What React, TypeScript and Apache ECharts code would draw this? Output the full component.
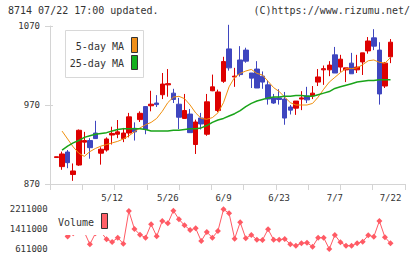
import React, { useEffect, useRef } from 'react';
import * as echarts from 'echarts';

const dates = ['4/23','4/24','4/25','4/28','4/30','5/1','5/2','5/7','5/8','5/9','5/12','5/13','5/14','5/15','5/16','5/19','5/20','5/21','5/22','5/23','5/26','5/27','5/28','5/29','5/30','6/2','6/3','6/4','6/5','6/6','6/9','6/10','6/11','6/12','6/13','6/16','6/17','6/18','6/19','6/20','6/23','6/24','6/25','6/26','6/27','6/30','7/1','7/2','7/3','7/4','7/7','7/8','7/9','7/10','7/11','7/14','7/15','7/16','7/17','7/18','7/22'];

// [open, close, low, high]
const ohlc = [
  [903.5, 904.5, 903.5, 904.5], [892, 908, 888, 911], [910.5, 897, 890, 913], [882, 886.5, 874, 896],
  [894, 938, 893, 939], [923, 925, 908, 936], [925, 916, 902, 928], [934.5, 927.5, 927, 950],
  [909, 914, 894.5, 916.5], [913, 927, 911, 929], [932, 934, 920, 942.5], [933, 936, 928, 951],
  [927.5, 934.5, 923, 941], [934.5, 955, 929, 960], [940.5, 936, 925, 948], [951.5, 959.5, 948.5, 962],
  [968, 939, 933, 968.5], [969, 971, 962, 988], [972.5, 970.5, 967.5, 982.5], [983, 996.5, 977.5, 1010.5],
  [995.5, 997, 980.5, 1015.5], [985, 977, 972.5, 990.5], [971, 954.5, 939.5, 979], [953, 963, 952.5, 984],
  [958.5, 935, 935, 965], [920, 948.5, 908, 951.5], [953.5, 946, 939, 960], [933, 974, 931, 984],
  [988, 993, 987.5, 1008.5], [963, 986.5, 961, 989.5], [1000, 1025, 998, 1031], [1041, 1017, 1013.5, 1071.5],
  [1005.5, 1006.5, 993, 1017], [1027, 1008.5, 1006, 1044.5], [1039.5, 1025.5, 1023.5, 1042.5], [1010.5, 1004, 991.5, 1010.5],
  [1015.5, 991.5, 991.5, 1025.5], [1006.5, 999, 990.5, 1012.5], [995.5, 977.5, 970.5, 1001], [979, 972.5, 971.5, 984],
  [979, 977, 970.5, 990], [977.5, 953.5, 945, 986.5], [967.5, 963.5, 958, 970], [966, 975, 957.5, 975],
  [977.5, 979, 963.5, 987.5], [981.5, 976.5, 972.5, 993], [981.5, 985, 977.5, 994], [999, 1005.5, 994, 1015.5],
  [1014.5, 1016, 995.5, 1020], [1014.5, 1020.5, 1006.5, 1025.5], [1033.5, 1010.5, 1010.5, 1043.5], [1018, 1028, 1012, 1033.5],
  [1014.5, 1017, 999, 1017], [1023, 1009.5, 1009.5, 1036], [1014.5, 1018, 1010.5, 1033.5], [1024.5, 1036, 1008, 1036],
  [1038.5, 1051, 1035, 1056], [1055, 1044.5, 1039.5, 1066], [1039.5, 984, 970.5, 1049.5], [994, 1023, 991.5, 1024.5],
  [1031, 1049.5, 1023, 1053.5]
];

const ma5 = [null, 937, 927, 917, 909, 905, 911, 915, 918, 920, 922, 924, 927, 931, 936, 941, 945, 948, 953, 962,
  973, 980, 981, 978, 970, 960, 953, 952, 954, 960, 973, 993, 1005, 1010, 1013, 1015, 1010, 1008, 1000, 992,
  987, 980, 973, 970, 970, 970, 972, 980, 990, 999, 1005, 1011, 1016, 1016, 1017, 1021, 1026, 1027, 1024, 1023, 1030];

const ma25 = [null, 913, 918, 922, 925, 929, 931, 933, 934, 935, 937, 939, 940, 940, 940, 940, 939, 937, 937, 937,
  937, 938, 938, 939, 940, 940, 941, 944, 948, 951, 953, 956, 959, 963, 968, 972, 975, 977, 979, 980,
  980, 981, 981, 982, 982, 981, 981, 983, 985, 987, 991, 993, 995, 997, 999, 1000, 1001, 1001, 1002, 1002, 1002];

const volume = [1500000, 1300000, 1120000, 1250000, 1400000, 1300000, 811000, 1250000, 1300000, 1011000,
  903000, 1075000, 835000, 2143000, 1423000, 1195000, 1075000, 1611000, 1131000, 1743000,
  1651000, 2155000, 1811000, 1571000, 1383000, 1451000, 943000, 1303000, 1075000, 1343000,
  2211000, 2051000, 1035000, 1691000, 1051000, 1183000, 995000, 983000, 1411000, 995000,
  995000, 1023000, 811000, 755000, 851000, 875000, 715000, 1075000, 1075000, 623000,
  1183000, 891000, 755000, 755000, 851000, 915000, 1171000, 1115000, 1743000, 1091000, 851000];

const labelDates = ['5/12', '5/26', '6/9', '6/23', '7/7', '7/22'];
const priceMin = 870, priceMax = 1070, priceStep = 100;
const volMin = 611000, volMax = 2211000, volStep = 800000;

const FONT = '"DejaVu Sans Mono", monospace';

export default function App() {
  const ref = useRef<HTMLDivElement>(null);
  useEffect(() => {
    const chart = echarts.init(ref.current as HTMLDivElement, null, { renderer: 'svg' });
    const axisGray = '#d4d4d4';
    const txt = '#333333';
    const plain = (v: number) => String(v);
    chart.setOption({
      animation: false,
      backgroundColor: '#ffffff',
      grid: [
        { left: 50, top: 26, width: 355, height: 158 },
        { left: 53.7, top: 26, width: 339.6, height: 158 },
        { left: 53.7, top: 209.3, width: 339.6, height: 40 },
      ],
      xAxis: [
        { type: 'value', gridIndex: 0, min: 0, max: 11, interval: 1,
          axisLine: { onZero: false, lineStyle: { color: axisGray } },
          axisTick: { show: true, length: 6, lineStyle: { color: axisGray } },
          axisLabel: { show: false }, splitLine: { show: false } },
        { type: 'category', gridIndex: 1, data: dates, boundaryGap: true,
          axisLine: { show: false }, axisTick: { show: false }, splitLine: { show: false },
          axisLabel: { interval: (_i: number, v: string) => labelDates.includes(v), margin: 9,
            fontFamily: FONT, fontSize: 9, color: txt } },
        { type: 'category', gridIndex: 2, data: dates, boundaryGap: true, show: false },
      ],
      yAxis: [
        { type: 'value', gridIndex: 0, min: priceMin, max: priceMax, interval: priceStep, position: 'left',
          axisLine: { show: true, onZero: false, lineStyle: { color: axisGray } },
          axisTick: { show: true, length: 5, lineStyle: { color: axisGray } },
          axisLabel: { margin: 10, fontFamily: FONT, fontSize: 9, color: txt, formatter: plain },
          splitLine: { show: false } },
        { type: 'value', gridIndex: 0, min: priceMin, max: priceMax, interval: priceStep, position: 'left',
          axisLine: { show: false }, axisTick: { show: true, inside: true, length: 3, lineStyle: { color: axisGray } },
          axisLabel: { show: false }, splitLine: { show: false } },
        { type: 'value', gridIndex: 1, min: priceMin, max: priceMax, show: false, splitLine: { show: false } },
        { type: 'value', gridIndex: 2, min: volMin, max: volMax, interval: volStep,
          axisLine: { show: false }, axisTick: { show: false }, splitLine: { show: false },
          axisLabel: { margin: 6, fontFamily: FONT, fontSize: 9, color: txt, formatter: plain } },
      ],
      series: [
        { type: 'candlestick', xAxisIndex: 1, yAxisIndex: 2, data: ohlc, barWidth: 5, clip: false,
          itemStyle: { color: '#dd0000', color0: '#3f46bf', borderColor: '#dd0000', borderColor0: '#3f46bf', borderWidth: 1 } },
        { type: 'line', xAxisIndex: 1, yAxisIndex: 2, data: ma5, symbol: 'none', clip: false,
          lineStyle: { color: '#f0900f', width: 1 } },
        { type: 'line', xAxisIndex: 1, yAxisIndex: 2, data: ma25, symbol: 'none', clip: false,
          lineStyle: { color: '#1aa41a', width: 1.5 } },
        { type: 'line', xAxisIndex: 2, yAxisIndex: 3, data: volume, symbol: 'diamond', symbolSize: 6,
          showAllSymbol: true, clip: false,
          itemStyle: { color: '#ff5a64' }, lineStyle: { color: '#ff5a64', width: 1 } },
      ],
      graphic: [
        { type: 'text', x: 8, y: 10, z: 100, style: { text: '8714 07/22 17:00 updated.', fill: txt,
          font: '10px ' + FONT, textAlign: 'left', textVerticalAlign: 'middle' } },
        { type: 'text', x: 410, y: 10, z: 100, style: { text: '(C)https://www.rizumu.net/', fill: txt,
          font: '10px ' + FONT, textAlign: 'right', textVerticalAlign: 'middle' } },
        { type: 'rect', z: 100, shape: { x: 65.5, y: 30.5, width: 78, height: 47 },
          style: { fill: '#ffffff', stroke: '#d8d8d8', lineWidth: 1 } },
        { type: 'text', x: 124, y: 46, z: 101, style: { text: '5-day MA', fill: txt,
          font: '10px ' + FONT, textAlign: 'right', textVerticalAlign: 'middle' } },
        { type: 'text', x: 124, y: 63, z: 101, style: { text: '25-day MA', fill: txt,
          font: '10px ' + FONT, textAlign: 'right', textVerticalAlign: 'middle' } },
        { type: 'rect', z: 101, shape: { x: 131.5, y: 37.5, width: 6, height: 15 },
          style: { fill: '#f0901a', stroke: '#333333', lineWidth: 1 } },
        { type: 'rect', z: 101, shape: { x: 131.5, y: 55.5, width: 6, height: 14 },
          style: { fill: '#14b01e', stroke: '#333333', lineWidth: 1 } },
        { type: 'rect', z: 100, shape: { x: 53, y: 210, width: 60, height: 25 },
          style: { fill: '#ffffff', stroke: null } },
        { type: 'text', x: 58, y: 222, z: 101, style: { text: 'Volume', fill: txt,
          font: '10px ' + FONT, textAlign: 'left', textVerticalAlign: 'middle' } },
        { type: 'rect', z: 101, shape: { x: 101.5, y: 213.5, width: 6, height: 15 },
          style: { fill: '#ff6068', stroke: '#333333', lineWidth: 1 } },
      ],
    });
    return () => chart.dispose();
  }, []);
  return <div ref={ref} style={{ position: 'absolute', left: 0, top: 0, width: 420, height: 259 }} />;
}
